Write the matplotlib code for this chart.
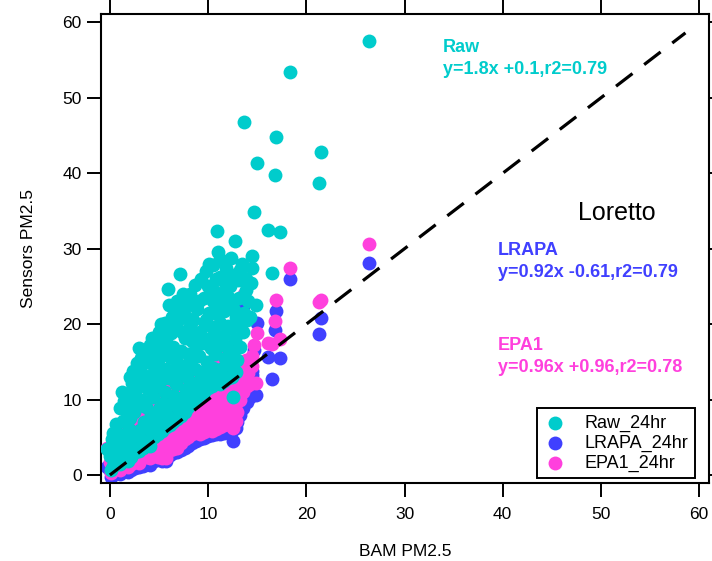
import matplotlib
matplotlib.use("Agg")
from matplotlib import pyplot as plt

plt.rcParams["font.family"] = ["Liberation Sans", "DejaVu Sans"]

# 24 hr averages, one entry per day: BAM reference and the three sensor versions
bam = [
    26.4, 18.3, 13.7, 16.9, 21.5, 15.0, 16.8, 21.3, 14.7, 10.9, 16.1, 17.3,
    12.7, 14.5, 12.3, 11.2, 10.1, 7.1, 16.5, 11.2, 13.2, 5.9, 13.9, 10.6,
    6.8, 7.6, 14.9, 7.3, 12.6, 10.9, 9.8, 6.6, 14.3, 12.0, 12.5, 12.5,
    0.1, 0.0, 0.2, -0.3, 0.3, 0.4, 0.3,
    0.6, 0.7, 0.6, 1.0, 1.1, 0.9, 1.0,
    1.4, 1.5, 1.3, 1.4, 1.8, 1.7, 1.9, 1.8, 1.7,
    2.2, 2.3, 2.1, 2.2, 2.3, 2.6, 2.7, 2.5, 2.6,
    3.0, 3.1, 2.9, 3.0, 3.1, 3.4, 3.5, 3.3, 3.4,
    3.8, 3.9, 3.7, 3.8, 3.8, 4.1, 4.2, 4.0, 4.1, 4.2,
    4.5, 4.6, 4.4, 4.5, 4.6, 4.9, 5.0, 4.8, 4.9,
    5.3, 5.4, 5.2, 5.3, 5.4, 5.7, 5.8, 5.6, 5.7, 5.8,
    6.1, 6.2, 6.0, 6.1, 6.2, 6.4, 6.5, 6.3, 6.4,
    6.8, 6.9, 6.7, 6.8, 6.9, 7.2, 7.3, 7.1, 7.2, 7.3,
    7.6, 7.7, 7.5, 7.6, 7.7, 8.0, 8.1, 7.9, 8.0, 8.1,
    8.4, 8.5, 8.3, 8.4, 8.5, 8.8, 8.9, 8.7, 8.8, 8.9,
    9.2, 9.3, 9.1, 9.2, 9.6, 9.7, 9.5, 9.6, 9.7, 9.6,
    10.0, 10.1, 9.9, 10.0, 10.1, 10.0, 10.4, 10.5, 10.3, 10.4, 10.5,
    10.8, 10.9, 10.7, 10.8, 10.9, 10.8, 11.2, 11.3, 11.1, 11.2, 11.3,
    11.6, 11.7, 11.5, 11.6, 11.7, 12.0, 12.1, 11.9, 12.0, 12.1,
    12.4, 12.5, 12.3, 12.4, 12.5, 12.8, 12.9, 12.7, 12.8,
    13.2, 13.3, 13.1, 13.6, 13.7, 14.0, 14.1, 13.9, 14.4, 14.5,
    2.0, 2.8, 3.6, 4.3, 5.0, 5.6, 6.3, 7.0, 7.9, 8.2, 8.7, 9.3, 9.8,
    10.5, 11.8, 12.2, 11.0, 9.1, 7.4, 6.0, 13.0, 13.5, 11.4, 10.2, 8.6,
    1.2, 2.4, 3.2, 3.0, 4.0, 4.7, 5.2, 1.6, 2.5, 3.3, 4.3,
    5.1, 6.0, 7.0, 7.8, 8.6, 2.0, 3.6, 5.0, 6.6, 8.2, 9.4,
]
raw = [
    57.5, 53.4, 46.8, 44.8, 42.8, 41.3, 39.8, 38.7, 34.8, 32.4, 32.5, 32.2,
    31.0, 29.0, 28.8, 28.6, 28.0, 26.7, 26.8, 26.3, 27.2, 24.7, 24.5, 24.4,
    23.0, 22.3, 22.5, 21.2, 21.9, 21.4, 20.5, 19.9, 21.0, 19.5, 10.4, 14.1,
    0.6, 2.5, 4.8, 3.4, 1.2, 3.6, 5.6,
    2.0, 4.2, 6.8, 1.4, 3.0, 5.5, 8.9,
    2.2, 4.6, 7.2, 9.8, 1.9, 3.8, 6.1, 8.4, 10.6,
    2.4, 5.0, 7.5, 10.0, 12.2, 3.0, 5.6, 8.3, 11.0,
    3.2, 6.0, 9.1, 12.0, 14.0, 3.6, 7.0, 10.0, 13.2,
    4.0, 6.5, 9.0, 11.6, 15.0, 3.8, 8.0, 12.5, 17.2, 14.8,
    5.0, 7.5, 10.4, 13.6, 16.0, 5.5, 8.8, 11.8, 15.2,
    5.8, 9.6, 12.6, 16.5, 18.0, 6.4, 8.0, 11.0, 14.0, 17.4,
    6.6, 9.4, 12.8, 15.6, 18.8, 7.0, 10.5, 13.8, 17.0,
    7.4, 9.0, 12.0, 15.0, 20.5, 7.8, 10.2, 13.5, 16.4, 19.0,
    8.3, 11.4, 14.5, 18.2, 21.0, 9.0, 10.6, 13.0, 16.0, 19.5,
    9.6, 12.2, 15.4, 17.8, 20.6, 10.2, 11.5, 14.0, 17.0, 22.0,
    10.8, 12.8, 15.8, 19.0, 11.0, 12.0, 13.6, 17.5, 20.0, 23.5,
    11.6, 12.6, 15.0, 18.0, 21.5, 25.0, 11.8, 14.2, 16.8, 19.6, 23.0,
    12.2, 13.2, 16.0, 18.5, 22.5, 26.0, 12.0, 14.0, 17.2, 20.2, 24.0,
    12.4, 15.5, 18.4, 21.8, 25.5, 12.8, 14.6, 17.0, 19.8, 23.5,
    13.0, 16.2, 19.5, 22.6, 26.5, 13.6, 15.2, 18.0, 21.0,
    17.0, 20.0, 23.5, 19.0, 21.5, 20.5, 23.0, 26.0, 25.5, 27.5,
    13.0, 14.8, 16.0, 18.2, 19.0, 20.2, 21.0, 22.2, 22.8, 24.0, 25.2, 26.0, 27.0,
    27.8, 27.5, 25.0, 29.5, 23.0, 24.0, 22.5, 25.8, 28.0, 22.8, 24.0, 19.0,
    11.0, 13.8, 15.5, 16.8, 16.5, 17.8, 20.0, 2.6, 3.6, 4.6, 5.6,
    6.6, 7.6, 8.6, 9.6, 10.6, 8.9, 12.0, 13.5, 16.2, 14.8, 18.0,
]
lrapa = [
    28.1, 26.0, 22.7, 21.8, 20.8, 20.1, 19.2, 18.7, 16.6, 15.5, 15.6, 15.5,
    14.8, 13.8, 13.7, 13.6, 13.3, 12.7, 12.7, 12.5, 12.9, 11.7, 11.6, 11.5,
    10.8, 10.5, 10.6, 9.9, 10.3, 10.0, 9.6, 9.3, 10.4, 9.1, 4.5, 6.4,
    -0.3, 0.7, 1.8, 1.1, 0.0, 1.2, 2.2,
    0.4, 1.5, 2.8, 0.1, 0.9, 2.2, 3.9,
    0.5, 1.7, 3.0, 4.3, 0.4, 1.3, 2.5, 3.6, 4.7,
    0.6, 1.9, 3.2, 4.4, 5.5, 0.9, 2.2, 3.6, 4.9,
    1.0, 2.4, 4.0, 5.4, 6.4, 1.2, 2.9, 4.4, 6.0,
    1.4, 2.7, 3.9, 5.2, 6.9, 1.3, 3.4, 5.7, 8.0, 6.8,
    1.9, 3.2, 4.6, 6.2, 7.4, 2.2, 3.8, 5.3, 7.0,
    1.9, 4.2, 5.7, 7.7, 8.4, 1.9, 3.4, 4.9, 6.4, 8.1,
    2.7, 4.1, 5.8, 7.2, 8.8, 2.9, 4.7, 6.3, 7.9,
    3.1, 3.9, 5.4, 6.9, 9.7, 3.3, 4.5, 6.2, 7.6, 8.9,
    3.6, 5.1, 6.7, 8.5, 9.9, 3.9, 4.7, 5.9, 7.4, 9.2,
    4.2, 5.5, 7.1, 8.3, 9.7, 4.5, 5.2, 6.4, 7.9, 10.4,
    4.8, 5.8, 7.3, 8.9, 4.9, 5.4, 6.2, 8.2, 9.4, 11.2,
    5.2, 5.7, 6.9, 8.4, 10.2, 11.9, 5.3, 6.5, 7.8, 9.2, 10.9,
    5.5, 6.0, 7.4, 8.7, 10.7, 12.4, 5.4, 6.4, 8.0, 9.5, 11.4,
    5.6, 7.2, 8.6, 10.3, 12.2, 5.8, 6.7, 7.9, 9.3, 11.2,
    5.9, 7.5, 9.2, 10.7, 12.7, 6.2, 7.0, 8.4, 9.9,
    7.9, 9.4, 11.2, 8.9, 10.2, 9.7, 10.9, 12.4, 12.2, 13.2,
    5.9, 6.8, 7.4, 8.5, 8.9, 9.5, 9.9, 10.5, 10.8, 11.4, 12.0, 12.4, 12.9,
    13.3, 13.2, 11.9, 14.2, 10.9, 11.4, 10.7, 12.3, 13.4, 10.8, 11.4, 8.9,
    4.9, 6.3, 7.2, 7.8, 7.7, 8.3, 9.4, 0.7, 1.2, 1.7, 2.2,
    2.7, 3.2, 3.7, 4.2, 4.7, 3.9, 5.4, 6.2, 7.5, 6.8, 8.4,
]
epa1 = [
    30.6, 27.5, 24.0, 23.2, 23.2, 18.8, 20.4, 22.9, 17.2, 16.5, 17.5, 18.0,
    17.4, 14.5, 15.0, 14.8, 14.2, 13.5, 17.3, 13.6, 14.4, 12.8, 13.0, 12.6,
    11.9, 11.8, 12.2, 11.0, 11.8, 11.5, 11.0, 10.5, 12.0, 10.4, 6.2, 8.2,
    0.3, 1.7, 3.2, 3.6, 1.2, 1.8, 3.2,
    1.8, 2.3, 4.0, 0.7, 1.9, 3.6, 4.7,
    1.7, 2.3, 4.0, 5.7, 1.0, 2.5, 3.1, 4.6, 6.1,
    1.4, 3.1, 3.8, 5.4, 6.9, 1.7, 3.4, 4.2, 5.9,
    1.6, 3.2, 5.2, 6.0, 7.4, 2.6, 3.7, 5.6, 6.6,
    2.4, 4.1, 4.7, 6.4, 7.5, 2.3, 4.8, 6.5, 9.2, 7.4,
    2.9, 4.6, 5.4, 7.4, 8.0, 2.4, 5.2, 6.1, 8.2,
    2.3, 5.2, 7.1, 8.5, 9.6, 2.3, 4.4, 6.3, 7.2, 9.3,
    3.3, 5.1, 7.2, 8.0, 10.0, 3.5, 5.7, 7.7, 8.7,
    3.6, 4.5, 6.4, 8.3, 10.5, 4.2, 5.1, 7.2, 9.0, 9.7,
    4.8, 5.7, 7.7, 9.9, 10.7, 5.1, 5.3, 6.9, 8.8, 10.0,
    5.4, 6.1, 8.1, 9.7, 10.5, 5.7, 5.8, 7.4, 9.3, 11.2,
    5.4, 6.4, 8.3, 10.3, 5.7, 6.6, 6.8, 9.2, 10.8, 12.0,
    6.4, 6.3, 7.9, 9.8, 11.0, 13.1, 5.9, 7.5, 9.2, 10.0, 12.1,
    6.1, 7.0, 8.8, 9.5, 11.9, 13.0, 6.4, 7.8, 8.8, 10.7, 12.0,
    6.6, 8.6, 9.4, 11.5, 12.8, 6.8, 8.1, 8.7, 10.5, 11.8,
    6.9, 8.9, 10.0, 11.9, 13.3, 7.2, 8.4, 9.2, 11.1,
    10.0, 11.9, 13.4, 11.0, 12.8, 11.8, 13.5, 15.2, 14.6, 15.8,
    6.9, 7.8, 8.4, 9.5, 9.9, 10.5, 10.9, 11.5, 11.8, 12.4, 13.0, 13.4, 13.9,
    14.3, 14.2, 12.9, 15.2, 11.9, 12.4, 11.7, 13.3, 14.4, 11.8, 12.4, 9.9,
    5.9, 7.3, 8.2, 8.8, 8.7, 9.3, 10.4, 1.7, 2.2, 2.7, 3.2,
    3.7, 4.2, 4.7, 5.2, 5.7, 4.9, 6.4, 7.2, 8.5, 7.8, 9.4,
]
assert len(bam) == len(raw) == len(lrapa) == len(epa1)

one_to_one = [0, 58.6]

labels = ["Raw_24hr", "LRAPA_24hr", "EPA1_24hr"]
fits = [
    ("Raw", "y=1.8x +0.1,r2=0.79"),
    ("LRAPA", "y=0.92x -0.61,r2=0.79"),
    ("EPA1", "y=0.96x +0.96,r2=0.78"),
]
site = "Loretto"

c_raw = "#00CCCC"
c_lrapa = "#4040FF"
c_epa = "#FF40DD"


def loretto_figure():
    fig = plt.figure(figsize=(7.12, 5.61), dpi=100)
    ax = fig.add_axes([0.1419, 0.139, 0.8539, 0.836])

    s = 100
    h_lrapa = ax.scatter(bam, lrapa, s=s, color=c_lrapa, linewidths=0, zorder=2)
    h_epa = ax.scatter(bam, epa1, s=s, color=c_epa, linewidths=0, zorder=3)
    h_raw = ax.scatter(bam, raw, s=s, color=c_raw, linewidths=0, zorder=4)

    ax.plot(one_to_one, one_to_one, color="black", lw=2.3, dashes=(6.5, 4.6), zorder=5)

    ax.set_xlim(-0.9, 61.0)
    ax.set_ylim(-1.06, 61.1)
    ax.set_xticks(range(0, 61, 10))
    ax.set_yticks(range(0, 61, 10))
    ax.tick_params(direction="out", length=10, width=1.4, labelsize=12.5,
                   top=True, right=True, pad=4)
    ax.tick_params(axis="x", pad=7)
    for sp in ax.spines.values():
        sp.set_linewidth(1.5)

    ax.set_xlabel("BAM PM2.5", fontsize=12.5, labelpad=16)
    ax.set_ylabel("Sensors PM2.5", fontsize=12.5, labelpad=19)

    # fit annotations
    fit_pos = [(33.9, 56.7, c_raw), (39.5, 29.8, c_lrapa), (39.5, 17.2, c_epa)]
    for (name, eq), (x, y, c) in zip(fits, fit_pos):
        ax.text(x, y, name, color=c, fontsize=13, fontweight="bold", va="center", zorder=6)
        ax.text(x, y - 3.0, eq, color=c, fontsize=13, fontweight="bold", va="center", zorder=6)

    ax.text(47.7, 34.7, site, fontsize=18, va="center", zorder=6)

    leg = ax.legend([h_raw, h_lrapa, h_epa], labels, loc="lower right",
                    bbox_to_anchor=(0.977, 0.011), borderaxespad=0,
                    fontsize=13, fancybox=False, framealpha=1, edgecolor="black",
                    handlelength=1.3, handletextpad=1.0, labelspacing=0.15,
                    borderpad=0.35)
    leg.get_frame().set_linewidth(1.4)
    leg.set_zorder(7)

    fig.savefig("out.png", dpi=100)


def main():
    loretto_figure()


if __name__ == "__main__":
    main()
